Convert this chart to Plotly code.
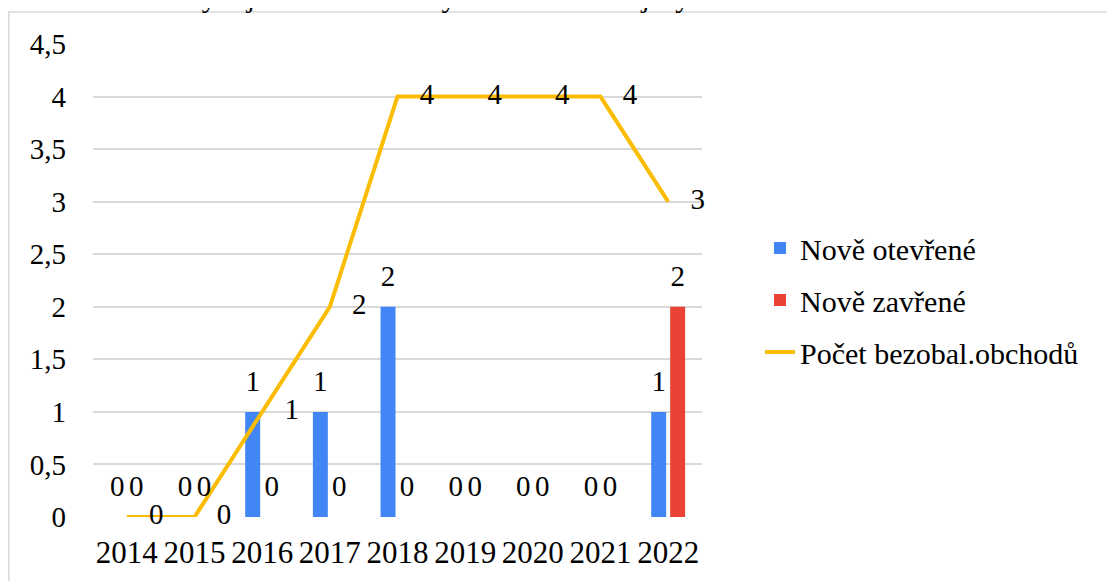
import plotly.graph_objects as go

years = ["2014", "2015", "2016", "2017", "2018", "2019", "2020", "2021", "2022"]
nove_otevrene = [0, 0, 1, 1, 2, 0, 0, 0, 1]
nove_zavrene = [0, 0, 0, 0, 0, 0, 0, 0, 2]
pocet_obchodu = [0, 0, 1, 2, 4, 4, 4, 4, 3]
ytick_vals = [0, 0.5, 1, 1.5, 2, 2.5, 3, 3.5, 4, 4.5]
ytick_text = ["0", "0,5", "1", "1,5", "2", "2,5", "3", "3,5", "4", "4,5"]

FONT = "Liberation Serif"
OFF = 8  # page body margin
W, H = 1115 - OFF, 581 - OFF
ML, MT = 93 - OFF, 44 - OFF
PR, PB = 702 - OFF, 517 - OFF
MR, MB = W - PR, H - PB
PW = PR - ML
PH = PB - MT

def px_x(px):
    return (px - OFF - ML) / PW

def px_y(py):
    return (PB - (py - OFF)) / PH

BARGAP = 0.44
BARGROUPGAP = 0.21
slot = (1 - BARGAP) / 2
idx = list(range(len(years)))
xr = [-0.5, len(years) - 0.5]

fig = go.Figure()
fig.add_trace(go.Bar(
    x=years, y=nove_otevrene, name="Nově otevřené",
    marker=dict(color="#4285F4", line=dict(width=0)),
    legendgroup="a",
))
fig.add_trace(go.Bar(
    x=years, y=nove_zavrene, name="Nově zavřené",
    marker=dict(color="#EA4335", line=dict(width=0)),
    legendgroup="b",
))
fig.add_trace(go.Scatter(
    x=years, y=pocet_obchodu, name="Počet bezobal.obchodů",
    mode="lines+markers+text",
    line=dict(color="#FBBC04", width=4),
    marker=dict(size=34, color="rgba(0,0,0,0)"),
    text=[str(v) for v in pocet_obchodu], textposition="middle right",
    textfont=dict(family=FONT, size=29, color="black"),
    cliponaxis=False, legendgroup="c",
))
# bar value labels on an overlaid numeric axis aligned with the bar slots
for vals, sign in ((nove_otevrene, -1), (nove_zavrene, 1)):
    fig.add_trace(go.Scatter(
        x=[i + sign * slot / 2 for i in idx], y=vals, xaxis="x2",
        mode="markers+text", marker=dict(size=20, color="rgba(0,0,0,0)"),
        text=[str(v) for v in vals], textposition="top center",
        textfont=dict(family=FONT, size=29, color="black"),
        cliponaxis=False, showlegend=False, hoverinfo="skip",
    ))

fig.update_layout(
    width=W, height=H,
    margin=dict(l=ML, r=MR, t=MT, b=MB, autoexpand=False),
    paper_bgcolor="white", plot_bgcolor="white",
    font=dict(family=FONT, size=29, color="black"),
    barmode="group", bargap=BARGAP, bargroupgap=BARGROUPGAP,
    showlegend=True,
    legend=dict(
        x=px_x(760), y=px_y(222), xanchor="left", yanchor="top",
        font=dict(family=FONT, size=30, color="black"),
        tracegroupgap=10, bgcolor="rgba(0,0,0,0)",
    ),
    xaxis=dict(
        type="category", range=xr, showgrid=False, showline=False, zeroline=False,
        ticks="", tickangle=0, tickfont=dict(family=FONT, size=31),
        ticklabelstandoff=14,
    ),
    xaxis2=dict(overlaying="x", range=xr, visible=False),
    yaxis=dict(
        range=[0, 4.5], tickvals=ytick_vals, ticktext=ytick_text,
        showgrid=True, gridcolor="#d9d9d9", gridwidth=1.5,
        zeroline=False, showline=False, ticks="",
        tickfont=dict(family=FONT, size=29), ticklabelstandoff=26,
    ),
    shapes=[dict(
        type="rect", xref="paper", yref="paper",
        x0=px_x(8.8), x1=px_x(1130), y0=px_y(12), y1=px_y(600),
        line=dict(color="#d9d9d9", width=1.5), fillcolor="rgba(0,0,0,0)",
        layer="below",
    )],
    annotations=[
        dict(text="Graf 15", xref="paper", yref="paper",
             x=px_x(52), y=px_y(15), xanchor="right", yanchor="bottom",
             showarrow=False, font=dict(family=FONT, size=30, color="black")),
        dict(text="Vývoj trhu bezobalových obchodů kraj Vysočina 2014-2022",
             xref="paper", yref="paper",
             x=px_x(178), y=px_y(15), xanchor="left", yanchor="bottom",
             showarrow=False, font=dict(family=FONT, size=30, color="black")),
    ],
)

fig.write_html("out.html")
